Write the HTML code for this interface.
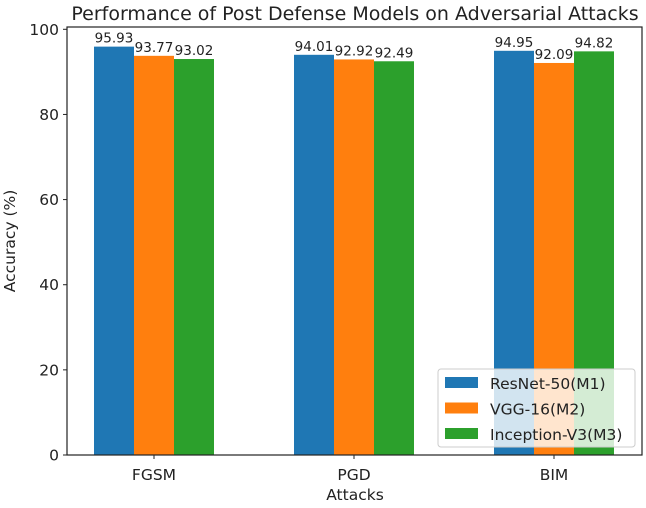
<!DOCTYPE html>
<html><head><meta charset="utf-8"><style>
body{margin:0;background:#fff}
text{font-family:"DejaVu Sans","Liberation Sans",sans-serif;fill:#222}
</style></head><body>
<svg id="chart" width="646" height="503" xmlns="http://www.w3.org/2000/svg"></svg>
<script>
const categories=["FGSM","PGD","BIM"];
const seriesNames=["ResNet-50(M1)","VGG-16(M2)","Inception-V3(M3)"];
const resnet=[95.93,94.01,94.95];
const vgg=[93.77,92.92,92.09];
const inception=[93.02,92.49,94.82];
const yTicks=[0,20,40,60,80,100];
const colors=["#1f77b4","#ff7f0e","#2ca02c"];
const series=[resnet,vgg,inception];
const svg=document.getElementById('chart');
const NS="http://www.w3.org/2000/svg";
const L=67,R=642,T=27,B=455;
function y(v){return B-v*4.257;}
function xc(i){return 154+i*200;}
const bw=40;
function mk(tag,attrs,parent){const e=document.createElementNS(NS,tag);for(const k in attrs)e.setAttribute(k,attrs[k]);(parent||svg).appendChild(e);return e;}
let t=mk('text',{x:355,y:20,'text-anchor':'middle','font-size':'19'});t.textContent="Performance of Post Defense Models on Adversarial Attacks";

series.forEach((s,si)=>{s.forEach((v,i)=>{
 const x0=xc(i)-60+si*bw;
 const r=mk('rect',{x:x0,y:y(v),width:bw,height:B-y(v),fill:colors[si]});
 
 
 const lt=mk('text',{x:x0+bw/2,y:y(v)-4,'text-anchor':'middle','font-size':'13.5'});lt.textContent=v.toFixed(2);
 
 
});});
mk('rect',{x:L,y:T,width:R-L,height:B-T,fill:'none',stroke:'#222','stroke-width':1.2});
yTicks.forEach(v=>{mk('line',{x1:L-4,x2:L,y1:y(v),y2:y(v),stroke:'#222'});
 const tt=mk('text',{x:L-8,y:y(v)+5.5,'text-anchor':'end','font-size':'15.5'});tt.textContent=v;
 
 });
categories.forEach((c,i)=>{mk('line',{x1:xc(i),x2:xc(i),y1:B,y2:B+4,stroke:'#222'});
 const tt=mk('text',{x:xc(i),y:B+25,'text-anchor':'middle','font-size':'15.5'});tt.textContent=c;
 
 });
let xl=mk('text',{x:355,y:500,'text-anchor':'middle','font-size':'15.5'});xl.textContent="Attacks";

let yl=mk('text',{x:0,y:0,'text-anchor':'middle','font-size':'15.5','transform':'translate(15,241) rotate(-90)'});yl.textContent="Accuracy (%)";

const lg=mk('g',{});

mk('rect',{x:438,y:369,width:197,height:78,rx:3,fill:'rgba(255,255,255,0.8)',stroke:'#ccc'},lg);
seriesNames.forEach((n,i)=>{const g=mk('g',{},lg);
 
 mk('rect',{x:445,y:377+i*25.5,width:33,height:11,fill:colors[i]},g);
 const tt=mk('text',{x:490,y:389+i*25.5,'font-size':'15.5'},g);tt.textContent=n;});
</script>
</body></html>
